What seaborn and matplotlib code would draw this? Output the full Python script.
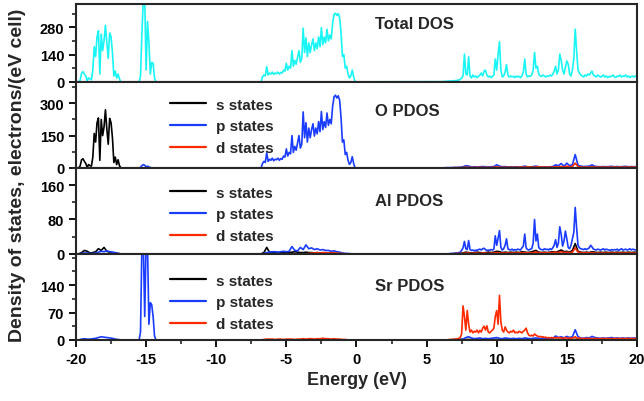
import numpy as np
import pandas as pd
import matplotlib
matplotlib.use("Agg")
import matplotlib.pyplot as plt
from matplotlib.ticker import MultipleLocator
import seaborn as sns

# ---- data (energy in eV, DOS in electrons/(eV cell)) ----
# segments: (start energy, step, values)
seg_a_start, seg_b_start, seg_c_start, seg_d_start = -19.8, -15.5, -6.8, 6.0

# Total DOS
total_a = [0, 10, 45, 52, 40, 30, 5, 20, 15, 10, 60, 180, 130, 230, 262, 40, 245, 160, 210, 290,
           200, 120, 250, 230, 150, 30, 55, 20, 40, 15, 0]
total_b = [0, 30, 250, 420, 430, 60, 310, 200, 40, 100, 95, 20, 0]
total_c = [0, 25, 35, 30, 78, 35, 45, 40, 50, 38,
           45, 42, 50, 40, 48, 45, 60, 55, 95, 60,
           80, 70, 160, 80, 110, 90, 125, 160, 100, 120,
           275, 150, 225, 130, 200, 150, 190, 220, 160, 200,
           170, 230, 180, 278, 190, 230, 200, 270, 210, 240,
           220, 300, 345, 352, 340, 350, 330, 250, 130, 140,
           70, 80, 40, 20, 30, 60, 25, 0, 0]
total_d = [1, 1, 2, 2, 3, 3, 4, 4, 5, 5, 6, 6, 8, 10,
           12, 20, 30, 142, 40, 35, 128, 30, 20, 35,
           25, 30, 22, 28, 35, 45, 30, 55, 60, 35,
           25, 30, 22, 28, 35, 117, 60, 140, 205, 60,
           25, 30, 50, 88, 35, 25, 30, 25, 28, 22,
           30, 25, 28, 22, 30, 50, 117, 40, 25, 30,
           28, 35, 60, 151, 70, 80, 40, 30, 28, 35,
           30, 25, 30, 28, 35, 30, 40, 55, 80, 40,
           60, 142, 110, 60, 40, 75, 107, 90, 40, 30,
           60, 120, 270, 160, 60, 45, 35, 30, 25, 35,
           30, 40, 35, 45, 55, 35, 30, 25, 35, 30,
           25, 28, 35, 25, 30, 22, 28, 25, 30, 35,
           25, 22, 30, 28, 35, 25, 30, 28, 35, 25,
           30, 22, 28, 30, 25, 30, 28]

# O PDOS
o_s_a = [0, 10, 38, 42, 30, 20, 3, 15, 10, 8, 50, 160, 120, 210, 232, 35, 225, 150, 190, 270,
         180, 110, 230, 210, 140, 25, 50, 15, 38, 10, 0]
o_p_b = [0, 2, 10, 15, 12, 5, 8, 4, 2, 0]
o_p_c = [0, 20, 30, 25, 70, 30, 40, 35, 45, 33,
         40, 38, 45, 35, 43, 40, 55, 50, 88, 55,
         72, 65, 150, 72, 100, 82, 115, 150, 92, 110,
         260, 140, 210, 120, 185, 140, 178, 205, 148, 185,
         158, 215, 168, 262, 178, 215, 188, 255, 198, 225,
         205, 285, 330, 338, 325, 335, 315, 235, 120, 130,
         62, 72, 35, 16, 25, 52, 20, 0, 0]
o_p_d = [0, 0, 1, 1, 1, 2, 2, 3,
         5, 10, 8, 4, 5, 4, 5, 6, 5, 4,
         5, 6, 14, 8, 5, 6, 4, 5, 4, 5,
         4, 5, 8, 5, 4, 6, 8, 5, 4, 5,
         4, 5, 6, 14, 10, 20, 8, 22, 10, 15,
         62, 12, 8, 6, 7, 8, 14, 7, 6, 5,
         6, 5, 6, 7, 5, 6, 5, 6, 7, 5,
         6, 5, 6]
o_d_d = [0, 0, 0, 0, 0, 1, 1, 1,
         2, 3, 2, 2, 2, 2, 3, 2, 2, 2,
         2, 3, 4, 3, 2, 3, 2, 3, 2, 3,
         3, 4, 3, 5, 4, 3, 4, 5, 3, 4,
         3, 4, 3, 5, 4, 6, 4, 8, 5, 6,
         22, 6, 4, 3, 4, 3, 5, 3, 4, 3,
         4, 3, 4, 3, 4, 3, 4, 3, 4, 3,
         4, 3, 4]

# Al PDOS
al_s_a = [0, 3, 8, 6, 2, 3, 5, 12, 8, 15, 6, 4, 3, 2, 1, 0]
al_p_a = [0, 1, 2, 2, 1, 1, 2, 4, 6, 5, 7, 5, 4, 3, 1, 0]
al_s_c = [0, 3, 15, 4, 3, 4, 3, 3, 4, 3, 3, 4, 5, 4, 3, 3, 4, 3, 3, 2,
          3, 2, 2, 2, 1, 2, 1, 1, 1, 0, 0, 0, 0, 0, 0]
al_p_c = [0, 1, 3, 4, 5, 5, 4, 5, 6, 5, 6, 17, 8, 7, 15, 10, 21, 12, 14, 10,
          12, 9, 10, 8, 8, 6, 7, 5, 4, 2, 1, 1, 0, 0, 0]
al_d_c = [0, 0, 0, 0, 0, 0, 0, 0, 0, 0, 0, 0, 0, 0, 0, 0, 0, 1, 2, 2,
          3, 2, 3, 3, 2, 3, 2, 2, 1, 1, 0, 0, 0, 0, 0]
al_p_d = [0, 0, 0, 0, 0, 0, 0, 1, 1, 1, 1, 2, 2, 3,
          4, 8, 14, 29, 12, 10, 31, 10, 8, 9,
          7, 9, 8, 10, 11, 9, 12, 13, 10, 8,
          9, 8, 10, 9, 11, 42, 20, 36, 54, 15,
          9, 12, 20, 35, 12, 10, 9, 11, 8, 10,
          9, 11, 10, 9, 14, 18, 46, 14, 10, 9,
          11, 12, 25, 80, 30, 46, 15, 11, 10, 9,
          12, 10, 11, 9, 12, 10, 14, 20, 33, 15,
          25, 63, 45, 18, 30, 53, 35, 15, 12, 20,
          35, 50, 108, 60, 20, 14, 12, 11, 10, 12,
          10, 12, 14, 20, 16, 11, 10, 9, 11, 10,
          9, 10, 12, 9, 11, 10, 9, 8, 10, 9,
          10, 9, 11, 8, 10, 12, 9, 10, 11, 9,
          10, 12, 9, 11, 10, 9, 10]
al_s_d = [0, 0, 0, 0, 0, 1, 1, 1,
          2, 4, 3, 2, 3, 4, 3, 2, 3, 4,
          3, 4, 6, 5, 3, 4, 3, 4, 3, 4,
          3, 5, 4, 3, 4, 6, 8, 4, 3, 4,
          3, 4, 5, 4, 6, 9, 5, 6, 4, 8,
          24, 6, 4, 3, 4, 3, 5, 4, 3, 4,
          3, 4, 3, 4, 3, 4, 3, 4, 3, 4,
          3, 4, 3]
al_d_d = [0, 0, 0, 0, 0, 0, 1, 1,
          1, 2, 2, 1, 2, 2, 1, 2, 2, 1,
          2, 2, 3, 2, 2, 2, 2, 2, 2, 2,
          2, 3, 2, 3, 2, 3, 4, 3, 2, 3,
          2, 3, 3, 4, 3, 5, 3, 4, 3, 4,
          14, 4, 3, 2, 3, 2, 3, 2, 2, 2,
          2, 2, 2, 2, 2, 2, 2, 2, 2, 2,
          2, 2, 2]

# Sr PDOS
sr_p_a = [0, 2, 3, 2, 2, 3, 4, 6, 8, 7, 6, 5, 4, 2, 1, 0]
sr_p_b = [0, 20, 240, 250, 60, 250, 240, 40, 95, 90, 60, 10, 0]
sr_p_d = [0, 0, 0, 0, 0, 0, 0, 1,
          2, 6, 8, 5, 3, 4, 5, 3, 4, 3,
          4, 5, 6, 4, 3, 5, 4, 3, 4, 3,
          4, 3, 5, 4, 3, 4, 5, 4, 3, 4,
          4, 5, 4, 10, 6, 8, 5, 9, 6, 8,
          26, 8, 5, 4, 6, 5, 9, 6, 5, 4,
          5, 4, 5, 6, 4, 5, 4, 5, 4, 5,
          4, 5, 4]
sr_d_c = [0, 1, 2, 2, 2, 1, 2, 2, 1, 2, 2, 2, 1, 2, 2, 3, 2, 3, 3, 2,
          3, 3, 4, 3, 3, 2, 3, 2, 2, 1, 1, 0, 0, 0, 0]
sr_d_d = [0, 0, 0, 0, 0, 0, 1, 1, 1, 1, 2, 2, 3, 4,
          6, 15, 87, 60, 25, 75, 40, 20, 25, 18,
          22, 20, 25, 18, 24, 20, 30, 35, 25, 36,
          20, 18, 22, 25, 30, 60, 75, 40, 114, 45,
          25, 20, 33, 25, 20, 18, 22, 20, 25, 18,
          20, 18, 22, 20, 18, 22, 25, 30, 18, 12,
          10, 12, 10, 15, 12, 10, 8, 9, 7, 8,
          6, 7, 5, 6, 5, 6, 5, 6, 5, 6,
          5, 6, 5, 4, 5, 6, 5, 4, 5, 4,
          5, 6, 8, 5, 4, 5, 4, 3, 4, 3,
          4, 3, 4, 3, 4, 3, 3, 4, 3, 3,
          3, 4, 3, 3, 4, 3, 3, 4, 3, 3,
          4, 3, 3, 4, 3, 3, 4, 3, 3, 4,
          3, 3, 4, 3, 3, 4, 3]
sr_s_d = [0, 0, 1, 1, 1, 1, 1, 1, 1, 1, 1, 1, 1, 1, 1, 1, 1, 1, 1, 1, 1, 1, 1, 1, 1, 1, 1, 1, 1]

# y tick labels of the four panels
total_ticks = [0, 140, 280]
o_ticks = [0, 150, 300]
al_ticks = [0, 80, 160]
sr_ticks = [0, 70, 140]


def build(*segs):
    xs, ys = [-20.0], [0.0]
    for start, step, vals in segs:
        for i, v in enumerate(vals):
            xs.append(round(start + step * i, 3))
            ys.append(v)
    if xs[-1] < 20:
        xs.append(20.0)
        ys.append(0.0)
    return pd.DataFrame({"E": xs, "DOS": ys})


CYAN, BLACK, BLUE, RED = "#19f5f5", "#000000", "#1a3cff", "#ff2a00"

panels = [
    ("Total DOS", (0, 400), total_ticks, 70, 0.745, None,
     [(None, CYAN, build((seg_a_start, 0.1, total_a), (seg_b_start, 0.1, total_b),
                         (seg_c_start, 0.1, total_c), (seg_d_start, 0.1, total_d)))]),
    ("O PDOS", (0, 400), o_ticks, 75, 0.665, 0.94,
     [("s states", BLACK, build((seg_a_start, 0.1, o_s_a))),
      ("p states", BLUE, build((seg_b_start, 0.1, o_p_b), (seg_c_start, 0.1, o_p_c),
                               (seg_d_start, 0.2, o_p_d))),
      ("d states", RED, build((seg_d_start, 0.2, o_d_d)))]),
    ("Al PDOS", (0, 200), al_ticks, 40, 0.62, 0.918,
     [("s states", BLACK, build((seg_a_start, 0.2, al_s_a), (seg_c_start, 0.2, al_s_c),
                                (seg_d_start, 0.2, al_s_d))),
      ("p states", BLUE, build((seg_a_start, 0.2, al_p_a), (seg_c_start, 0.2, al_p_c),
                               (seg_d_start, 0.1, al_p_d))),
      ("d states", RED, build((seg_c_start, 0.2, al_d_c), (seg_d_start, 0.2, al_d_d)))]),
    ("Sr PDOS", (0, 220), sr_ticks, 35, 0.63, 0.895,
     [("s states", BLACK, build((seg_d_start, 0.5, sr_s_d))),
      ("p states", BLUE, build((seg_a_start, 0.2, sr_p_a), (seg_b_start, 0.1, sr_p_b),
                               (seg_d_start, 0.2, sr_p_d))),
      ("d states", RED, build((seg_c_start, 0.2, sr_d_c), (seg_d_start, 0.1, sr_d_d)))]),
]

sns.set_style("ticks")
plt.rcParams["font.family"] = ["Liberation Sans", "DejaVu Sans"]
plt.rcParams["font.weight"] = "bold"
plt.rcParams["axes.linewidth"] = 1.5
plt.rcParams["axes.unicode_minus"] = False

fig = plt.figure(figsize=(6.44, 4.02), dpi=100)
gs = fig.add_gridspec(4, 1, height_ratios=[78, 86, 86, 86], hspace=0,
                      left=0.118, right=0.989, top=0.988, bottom=0.152)
axes = [fig.add_subplot(gs[i]) for i in range(4)]

for ax, (title, ylim, yticks, minor, ty, ly, series) in zip(axes, panels):
    for label, color, df in series:
        sns.lineplot(data=df, x="E", y="DOS", ax=ax, color=color, lw=1.2,
                     estimator=None, sort=False, label=label)
    ax.set_xlim(-20, 20)
    ax.set_ylim(*ylim)
    ax.xaxis.set_major_locator(MultipleLocator(5))
    ax.xaxis.set_minor_locator(MultipleLocator(2.5))
    ax.set_yticks(yticks)
    ax.yaxis.set_minor_locator(MultipleLocator(minor))
    ax.tick_params(which="major", direction="out", length=5, width=1.3,
                   labelsize=10.5, colors="black")
    ax.tick_params(which="minor", direction="out", length=3, width=1.2)
    ax.set_xlabel("")
    ax.set_ylabel("")
    for lab in ax.get_yticklabels():
        lab.set_fontweight("bold")
    ax.text(0.533, ty, title, transform=ax.transAxes, fontsize=12,
            fontweight="bold", va="center", ha="left")
    if ly is not None:
        leg = ax.legend(loc="upper left", bbox_to_anchor=(0.148, ly), frameon=False,
                        fontsize=11, handlelength=2.4, handletextpad=0.6,
                        labelspacing=0.5, borderpad=0.2)
        for t in leg.get_texts():
            t.set_fontweight("bold")
        for h in leg.get_lines():
            h.set_linewidth(1.6)
    elif ax.get_legend() is not None:
        ax.get_legend().remove()
    if ax is not axes[-1]:
        ax.tick_params(axis="x", labelbottom=False)

for lab in axes[-1].get_xticklabels():
    lab.set_fontweight("bold")
axes[-1].set_xlabel("Energy (eV)", fontsize=13, fontweight="bold", labelpad=4)
fig.text(0.027, 0.565, "Density of states, electrons/(eV cell)", rotation=90,
         fontsize=14, fontweight="bold", va="center", ha="center")

fig.savefig("out.png", dpi=100)
